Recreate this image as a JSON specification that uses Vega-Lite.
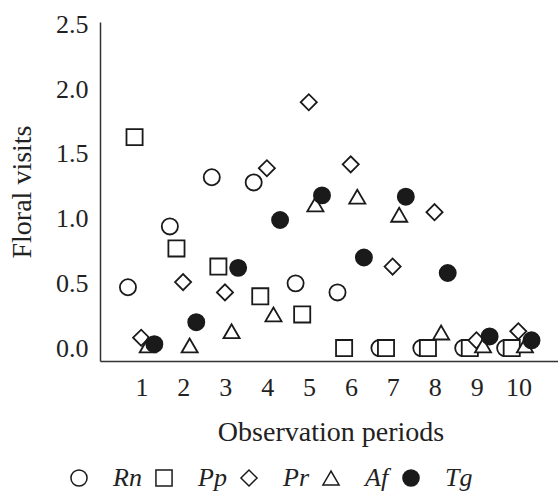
{
  "$schema": "https://vega.github.io/schema/vega-lite/v6.json",
  "width": 461,
  "height": 339,
  "autosize": {"type": "none"},
  "padding": {"left": 100, "top": 22, "right": 0, "bottom": 134},
  "config": {
    "view": {"stroke": null},
    "font": "Liberation Serif",
    "axis": {
      "domainColor": "#333333",
      "domainWidth": 1.5,
      "ticks": false,
      "grid": false,
      "labelFont": "Liberation Serif",
      "titleFont": "Liberation Serif",
      "labelFontSize": 26,
      "titleFontSize": 28,
      "labelColor": "#222222",
      "titleColor": "#222222",
      "titleFontWeight": "normal"
    }
  },
  "data": {
    "values": [
      {"species": "Rn", "period": 1, "visits": 0.47},
      {"species": "Rn", "period": 2, "visits": 0.94},
      {"species": "Rn", "period": 3, "visits": 1.32},
      {"species": "Rn", "period": 4, "visits": 1.28},
      {"species": "Rn", "period": 5, "visits": 0.50},
      {"species": "Rn", "period": 6, "visits": 0.43},
      {"species": "Rn", "period": 7, "visits": 0.0},
      {"species": "Rn", "period": 8, "visits": 0.0},
      {"species": "Rn", "period": 9, "visits": 0.0},
      {"species": "Rn", "period": 10, "visits": 0.0},
      {"species": "Pp", "period": 1, "visits": 1.63},
      {"species": "Pp", "period": 2, "visits": 0.77},
      {"species": "Pp", "period": 3, "visits": 0.63},
      {"species": "Pp", "period": 4, "visits": 0.40},
      {"species": "Pp", "period": 5, "visits": 0.26},
      {"species": "Pp", "period": 6, "visits": 0.0},
      {"species": "Pp", "period": 7, "visits": 0.0},
      {"species": "Pp", "period": 8, "visits": 0.0},
      {"species": "Pp", "period": 9, "visits": 0.0},
      {"species": "Pp", "period": 10, "visits": 0.0},
      {"species": "Pr", "period": 1, "visits": 0.08},
      {"species": "Pr", "period": 2, "visits": 0.51},
      {"species": "Pr", "period": 3, "visits": 0.43},
      {"species": "Pr", "period": 4, "visits": 1.39},
      {"species": "Pr", "period": 5, "visits": 1.90},
      {"species": "Pr", "period": 6, "visits": 1.42},
      {"species": "Pr", "period": 7, "visits": 0.63},
      {"species": "Pr", "period": 8, "visits": 1.05},
      {"species": "Pr", "period": 9, "visits": 0.06},
      {"species": "Pr", "period": 10, "visits": 0.13},
      {"species": "Af", "period": 1, "visits": 0.02},
      {"species": "Af", "period": 2, "visits": 0.02},
      {"species": "Af", "period": 3, "visits": 0.13},
      {"species": "Af", "period": 4, "visits": 0.26},
      {"species": "Af", "period": 5, "visits": 1.11},
      {"species": "Af", "period": 6, "visits": 1.17},
      {"species": "Af", "period": 7, "visits": 1.03},
      {"species": "Af", "period": 8, "visits": 0.12},
      {"species": "Af", "period": 9, "visits": 0.02},
      {"species": "Af", "period": 10, "visits": 0.02},
      {"species": "Tg", "period": 1, "visits": 0.03},
      {"species": "Tg", "period": 2, "visits": 0.20},
      {"species": "Tg", "period": 3, "visits": 0.62},
      {"species": "Tg", "period": 4, "visits": 0.99},
      {"species": "Tg", "period": 5, "visits": 1.18},
      {"species": "Tg", "period": 6, "visits": 0.70},
      {"species": "Tg", "period": 7, "visits": 1.17},
      {"species": "Tg", "period": 8, "visits": 0.58},
      {"species": "Tg", "period": 9, "visits": 0.09},
      {"species": "Tg", "period": 10, "visits": 0.06}
    ]
  },
  "mark": {"type": "point", "filled": true, "opacity": 1, "stroke": "#1a1a1a", "strokeWidth": 1.8, "size": 260},
  "encoding": {
    "x": {
      "field": "period",
      "type": "ordinal",
      "scale": {"type": "band", "paddingInner": 0, "paddingOuter": 0.5},
      "axis": {"title": "Observation periods", "labelAngle": 0, "labelPadding": 13, "titlePadding": 18}
    },
    "xOffset": {
      "field": "species",
      "type": "nominal",
      "scale": {"type": "band", "domain": ["Rn", "Pp", "Pr", "Af", "Tg"], "range": [3.7, 36.7], "paddingInner": 0, "paddingOuter": 0}
    },
    "y": {
      "field": "visits",
      "type": "quantitative",
      "scale": {"domain": [-0.1, 2.52], "nice": false, "zero": false},
      "axis": {"title": "Floral visits", "values": [0, 0.5, 1, 1.5, 2, 2.5], "format": ".1f", "labelPadding": 12, "titlePadding": 19}
    },
    "shape": {
      "field": "species",
      "type": "nominal",
      "scale": {"domain": ["Rn", "Pp", "Pr", "Af", "Tg"], "range": ["circle", "square", "diamond", "triangle-up", "circle"]},
      "legend": {"title": null, "orient": "none", "direction": "horizontal", "legendX": -34, "legendY": 443, "labelFontStyle": "italic", "labelFontSize": 26, "labelFont": "Liberation Serif", "labelColor": "#222222", "symbolSize": 260, "labelOffset": 21, "columnPadding": 9, "padding": 0,
        "encode": {"symbols": {"update": {"stroke": {"value": "#1a1a1a"}, "strokeWidth": {"value": 1.8}, "opacity": {"value": 1}}}}}
    },
    "fill": {
      "field": "species",
      "type": "nominal",
      "scale": {"domain": ["Rn", "Pp", "Pr", "Af", "Tg"], "range": ["white", "white", "white", "white", "#1a1a1a"]},
      "legend": {"title": null, "orient": "none", "direction": "horizontal", "legendX": -34, "legendY": 443, "labelFontStyle": "italic", "labelFontSize": 26, "labelFont": "Liberation Serif", "labelColor": "#222222", "symbolSize": 260, "labelOffset": 21, "columnPadding": 9, "padding": 0,
        "encode": {"symbols": {"update": {"stroke": {"value": "#1a1a1a"}, "strokeWidth": {"value": 1.8}, "opacity": {"value": 1}}}}}
    }
  }
}
